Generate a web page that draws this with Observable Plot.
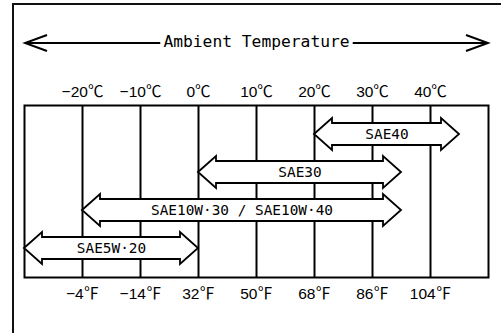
<!DOCTYPE html>
<html>
<head>
<meta charset="utf-8">
<script src="https://cdn.jsdelivr.net/npm/d3@7"></script>
<script src="https://cdn.jsdelivr.net/npm/@observablehq/plot@0.6"></script>
<style>
  html, body { margin: 0; padding: 0; background: #fff; overflow: hidden; }
  #chart { width: 501px; height: 333px; overflow: hidden; }
</style>
</head>
<body>
<div id="chart"></div>
<script>
// Recommended engine-oil viscosity grade by ambient temperature
const title = "Ambient Temperature";
const celsiusTicks = [-20, -10, 0, 10, 20, 30, 40];
const celsiusLabels = ["−20℃", "−10℃", "0℃", "10℃", "20℃", "30℃", "40℃"];
const fahrenheitLabels = ["−4℉", "−14℉", "32℉", "50℉", "68℉", "86℉", "104℉"];
const grades = ["SAE40", "SAE30", "SAE10W·30 / SAE10W·40", "SAE5W·20"];
const lowC = [20, 0, -20, -30];
const highC = [45, 35, 35, 0];
const tempDomain = [-30, 50];

const rows = grades.map((grade, i) => ({grade, lo: lowC[i], hi: highC[i]}));

const monoFont = "'DejaVu Sans Mono', 'Liberation Mono', monospace";
const sansFont = "'Liberation Sans', 'Noto Sans CJK JP', sans-serif";
const titleSize = 16.3;

function scaleFn(scales, name) {
  const s = scales[name];
  if (typeof s === "function") return s;
  return scales.scales[name].apply;
}

// Sheet border: left and top edges of the page the chart sits on
function sheetBorder(index, scales, values, dimensions) {
  const {width, height} = dimensions;
  return d3.create("svg:path")
    .attr("fill", "none").attr("stroke", "#111").attr("stroke-width", 2)
    .attr("d", `M13,${height}V4H${width}`)
    .node();
}

// Double-headed block arrow for each grade's usable range
function blockArrows(index, scales, values, dimensions) {
  const x = scaleFn(scales, "x"), y = scaleFn(scales, "y");
  const h = 18, H = 16, s = 11;
  const g = d3.create("svg:g")
    .attr("fill", "#fff").attr("stroke", "#000")
    .attr("stroke-width", 1.8).attr("stroke-linejoin", "miter");
  for (const r of rows) {
    const a = x(r.lo), b = x(r.hi), c = y(r.grade);
    const p = d3.path();
    p.moveTo(a, c);
    p.lineTo(a + h, c - H); p.lineTo(a + h, c - s);
    p.lineTo(b - h, c - s); p.lineTo(b - h, c - H);
    p.lineTo(b, c);
    p.lineTo(b - h, c + H); p.lineTo(b - h, c + s);
    p.lineTo(a + h, c + s); p.lineTo(a + h, c + H);
    p.closePath();
    g.append("path").attr("d", p.toString());
  }
  return g.node();
}

// Long two-way arrow of the heading, broken around the title text
function headerArrow(index, scales, values, dimensions) {
  const x = scaleFn(scales, "x");
  const left = x(tempDomain[0]) + 1, right = x(tempDomain[1]);
  const yy = dimensions.marginTop - 62;
  const mid = (left + right) / 2;
  const gap = title.length * 0.602 * titleSize / 2 + 3;
  const len = 22, half = 8;
  const g = d3.create("svg:g")
    .attr("fill", "none").attr("stroke", "#000").attr("stroke-width", 1.9);
  g.append("path").attr("d",
    `M${left},${yy}H${mid - gap}M${mid + gap},${yy}H${right}` +
    `M${left + len},${yy - half}L${left},${yy}L${left + len},${yy + half}` +
    `M${right - len},${yy - half}L${right},${yy}L${right - len},${yy + half}`);
  return g.node();
}

const chart = Plot.plot({
  width: 501,
  height: 333,
  marginLeft: 24,
  marginRight: 13,
  marginTop: 105,
  marginBottom: 56,
  x: {domain: tempDomain, axis: null},
  y: {type: "point", domain: grades, padding: 0.73, axis: null},
  style: {background: "#fff", color: "#000"},
  marks: [
    sheetBorder,
    Plot.ruleX(celsiusTicks, {stroke: "#000", strokeWidth: 2}),
    Plot.frame({stroke: "#000", strokeWidth: 2}),
    blockArrows,
    Plot.text(rows, {
      x: d => (d.lo + d.hi) / 2, y: "grade", text: "grade",
      fontFamily: monoFont, fontSize: 14.4, fill: "#000"
    }),
    Plot.text(celsiusTicks, {
      x: d => d, text: (d, i) => celsiusLabels[i],
      frameAnchor: "top", lineAnchor: "middle", dy: -13,
      fontFamily: sansFont, fontSize: 15.5, fill: "#000"
    }),
    Plot.text(celsiusTicks, {
      x: d => d, text: (d, i) => fahrenheitLabels[i],
      frameAnchor: "bottom", lineAnchor: "middle", dy: 17,
      fontFamily: sansFont, fontSize: 15.5, fill: "#000"
    }),
    headerArrow,
    Plot.text([title], {
      text: d => d, frameAnchor: "top", lineAnchor: "middle", dy: -63.5,
      fontFamily: monoFont, fontSize: titleSize, fill: "#000"
    })
  ]
});

document.getElementById("chart").appendChild(chart);
</script>
</body>
</html>
